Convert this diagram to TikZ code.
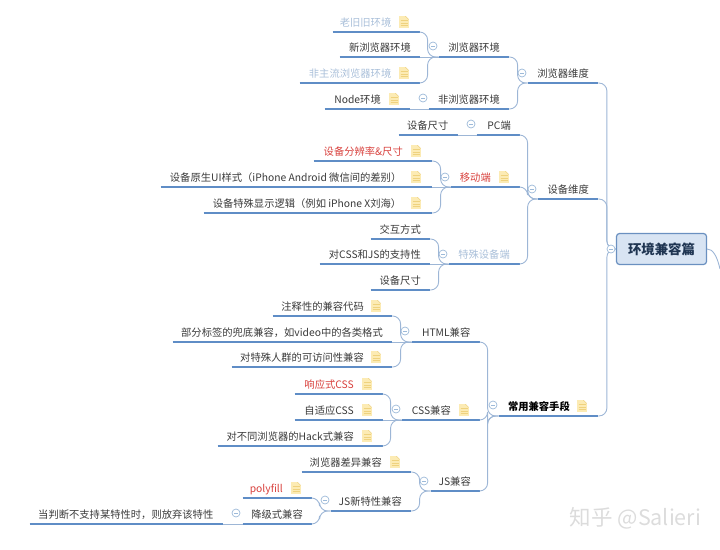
\documentclass[tikz,border=0pt]{standalone}
\usepackage{fontspec}
\setmainfont{Noto Sans CJK SC}
\definecolor{barblue}{HTML}{5F8DC6}
\definecolor{linkblue}{HTML}{9DB6D6}
\definecolor{foldblue}{HTML}{9DBAD9}
\definecolor{rootfill}{HTML}{D8E4F3}
\definecolor{rootedge}{HTML}{6A90C0}
\definecolor{rootink}{HTML}{1F3552}
\definecolor{noteink}{HTML}{3A3A3A}
\definecolor{notered}{HTML}{D8403C}
\definecolor{notefade}{HTML}{A9BFD9}
\definecolor{pagefill}{HTML}{FCEBB4}
\definecolor{pagerule}{HTML}{EFD27E}
\definecolor{markgray}{HTML}{DCDCDC}
\tikzset{
    topic/.style={anchor=south east,inner xsep=0pt,inner ysep=4.5pt,text height=9pt,text depth=1pt,
        font=\fontsize{10.3}{12}\selectfont},
    inkstyle/.style={text=noteink},
    redstyle/.style={text=notered},
    fadestyle/.style={text=notefade},
    boldstyle/.style={text=black,font=\fontsize{10.3}{12}\selectfont\bfseries},
    bar/.style={draw=barblue,line width=2pt},
    link/.style={draw=linkblue,line width=0.9pt,rounded corners=8pt},
    fold/.style={circle,draw=foldblue,line width=0.7pt,inner sep=0pt,minimum size=8pt,
        path picture={\draw[foldblue,line width=0.7pt] ([xshift=-2pt]path picture bounding box.center)
        -- ([xshift=2pt]path picture bounding box.center);}},
    notepage/.style={rectangle,fill=pagefill,inner sep=0pt,minimum width=9.5pt,minimum height=12pt,
        path picture={
            \foreach \k in {-1.5,1,3.5}
                \draw[pagerule,line width=0.8pt] ([xshift=-3.5pt,yshift=-\k pt]path picture bounding box.center)
                -- ([xshift=3.5pt,yshift=-\k pt]path picture bounding box.center);
            \fill[white] (path picture bounding box.north east) -- ++(-3.5pt,0) -- ++(3.5pt,-3.5pt) -- cycle;
            \draw[pagerule,line width=0.5pt] ([xshift=-3.5pt]path picture bounding box.north east) -- ++(3.5pt,-3.5pt);}},
}
\begin{document}
\begin{tikzpicture}[x=1pt,y=-1pt]
    \useasboundingbox (0,0) rectangle (720,549);
    % topics: name/left/right/bar y/text right/style/text
    \foreach \n/\xa/\xb/\y/\xr/\sty/\txt in {
        old/333/420/32/391.5/fadestyle/老旧旧环境,
        new/340/420/57/411/inkstyle/新浏览器环境,
        other/300/420/83/391.5/fadestyle/非主流浏览器环境,
        nodejs/325/410/109/381/inkstyle/Node环境,
        brenv/439/509/57/500/inkstyle/浏览器环境,
        nonbr/429/509/109/500/inkstyle/非浏览器环境,
        brdim/528/598/83/589/inkstyle/浏览器维度,
        pcsize/399/458/135/448.5/inkstyle/设备尺寸,
        pc/477/520/135/511/inkstyle/PC端,
        res/314/432/161/403/redstyle/设备分辨率\&尺寸,
        ui/161/432/187/401.5/inkstyle/设备原生UI样式（iPhone Android 微信间的差别）,
        notch/204/432/213/401.5/inkstyle/设备特殊显示逻辑（例如 iPhone X刘海）,
        mobile/451/520/187/491/redstyle/移动端,
        touch/371/430/239/421/inkstyle/交互方式,
        support/320/430/264/421/inkstyle/对CSS和JS的支持性,
        spsize/371/430/290/421/inkstyle/设备尺寸,
        special/449/520/264/510/fadestyle/特殊设备端,
        devdim/538/598/199/589/inkstyle/设备维度,
        means/499/598/416/570/boldstyle/常用兼容手段,
        comment/273/392/316/364/inkstyle/注释性的兼容代码,
        fallback/173/392/342/383/inkstyle/部分标签的兜底兼容，如video中的各类格式,
        access/232/392/367/364/inkstyle/对特殊人群的可访问性兼容,
        html/412/480/342/470.5/inkstyle/HTML兼容,
        respcss/295/383/394/354/redstyle/响应式CSS,
        adapt/295/383/420/354/inkstyle/自适应CSS,
        hack/218/383/446/354/inkstyle/对不同浏览器的Hack式兼容,
        css/402/480/420/451/inkstyle/CSS兼容,
        jsdiff/302/411/472/382/inkstyle/浏览器差异兼容,
        js/431/480/491/471/inkstyle/JS兼容,
        jsnew/331/411/511/402/inkstyle/JS新特性兼容,
        polyfill/243/312/498/283/redstyle/polyfill,
        degrade/243/312/524/303/inkstyle/降级式兼容,
        drop/30/223/524/213.5/inkstyle/当判断不支持某特性时，则放弃该特性}
    {
        \pgfmathsetmacro\barw{\xb-\xa}
        \pgfmathsetmacro\padw{\xb-\xr}
        \node[topic,\sty] (\n) at (\xb,\y) {\hbox to \barw pt{\hfill\txt\kern\padw pt}};
        \draw[bar] (\n.south west) -- (\n.south east);
    }
    \node[rectangle,rounded corners=3pt,fill=rootfill,draw=rootedge,line width=1.2pt,minimum width=90pt,minimum height=31pt,
        inner sep=0pt,text=rootink,font=\fontsize{13.4}{16}\selectfont\bfseries] (root) at (661.5,249) {环境兼容篇};
    \node[anchor=center,text=markgray,inner sep=0pt,font=\fontsize{21.5}{26}\selectfont] (mark) at (635.5,518) {知乎 @Salieri};
    \coordinate (rootexit) at (720,269);
    % connectors
    \foreach \p/\d/\kids in {
        brenv/11/{old,other},
        brdim/10/{brenv,nonbr},
        mobile/10/{res,notch},
        special/10/{touch,spsize},
        devdim/10/{pc,mobile,special},
        html/11/{comment,access},
        css/11/{respcss,hack},
        jsnew/11/{polyfill,degrade},
        js/11/{jsdiff,jsnew},
        means/11/{html,css,js}}
        \foreach \c in \kids
            \draw[link] (\p.south west) -- ++(-\d,0) |- (\c.south east);
    \foreach \p/\c in {brenv/new,nonbr/nodejs,pc/pcsize,mobile/ui,special/support,html/fallback,css/adapt,degrade/drop}
        \draw[link] (\p.south west) -- (\c.south east);
    \foreach \c in {brdim,devdim,means}
        \draw[link] (root.west) -- ++(-9,0) |- (\c.south east);
    \draw[link] (root.east) .. controls (713,249) and (717,256) .. (rootexit);
    % fold marks
    \foreach \n/\x/\y in {
        a/433/46, b/522/73, c/423/98, d/471/124, e/445/177, f/443/254, g/532/189, h/611/249,
        i/405/331, j/396/409, k/493/405, l/424/481, m/325/500, n/236/513}
        \node[fold,fill=white] (fold\n) at (\x,\y) {};
    % note pages
    \foreach \n in {old,other,nodejs,res,ui,notch,mobile,means,comment,access,respcss,adapt,hack,css,jsdiff,polyfill}
        \node at (\n.south east)[notepage,xshift=-16pt,yshift=10pt] (page\n) {};
\end{tikzpicture}
\end{document}
